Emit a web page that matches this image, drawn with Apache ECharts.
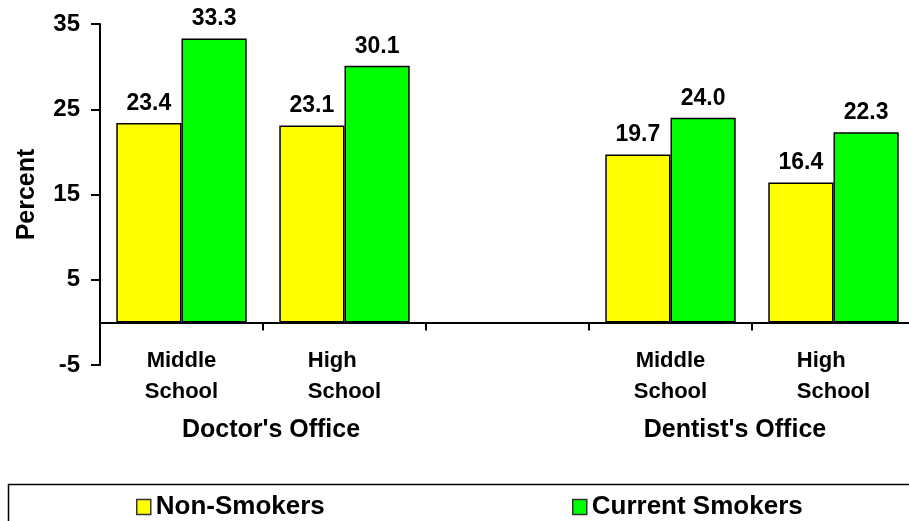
<!DOCTYPE html>
<html>
<head>
<meta charset="utf-8">
<script src="https://cdn.jsdelivr.net/npm/echarts@6/dist/echarts.min.js"></script>
<style>
  html, body { margin: 0; padding: 0; background: #fff; }
  #chart { width: 909px; height: 521px; }
</style>
</head>
<body>
<div id="chart"></div>
<script>
// Categories along the x axis (the empty slot separates the two settings)
const categories = ['Middle\nSchool', 'High    \nSchool', '', 'Middle\nSchool', 'High    \nSchool'];
const groupLabels = ["Doctor's Office", "Dentist's Office"];
const seriesNames = ['Non-Smokers', 'Current Smokers'];
const nonSmokers = [23.4, 23.1, '-', 19.7, 16.4];
const currentSmokers = [33.3, 30.1, '-', 24.0, 22.3];
const yTicks = [-5, 5, 15, 25, 35];

const FONT = '"Liberation Sans", Arial, Helvetica, sans-serif';

const chart = echarts.init(document.getElementById('chart'), null, { renderer: 'canvas' });

const barLabel = {
  show: true,
  position: 'top',
  distance: 8,
  color: '#000',
  fontFamily: FONT,
  fontWeight: 'bold',
  fontSize: 23,
  formatter: p => Number(p.value).toFixed(1)
};

const legendText = { color: '#000', fontFamily: FONT, fontWeight: 'bold', fontSize: 26 };

chart.setOption({
  animation: false,
  backgroundColor: '#fff',
  grid: { left: 100, top: 24, width: 815, height: 341, containLabel: false, outerBoundsMode: 'none' },
  xAxis: {
    type: 'category',
    data: categories,
    axisLine: { onZero: true, lineStyle: { color: '#000', width: 2 } },
    axisTick: { show: true, inside: false, length: 8, lineStyle: { color: '#000', width: 2 } },
    axisLabel: {
      interval: 0,
      margin: -20,
      color: '#000',
      fontFamily: FONT,
      fontWeight: 'bold',
      fontSize: 22,
      lineHeight: 31
    },
    splitLine: { show: false }
  },
  yAxis: {
    type: 'value',
    min: -5,
    max: 35,
    interval: 5,
    name: 'Percent',
    nameLocation: 'middle',
    nameGap: 60,
    nameRotate: 90,
    nameTextStyle: { color: '#000', fontFamily: FONT, fontWeight: 'bold', fontSize: 25 },
    axisLine: { show: true, lineStyle: { color: '#000', width: 2 } },
    axisTick: { show: true, length: 9, customValues: yTicks, lineStyle: { color: '#000', width: 2 } },
    axisLabel: {
      customValues: yTicks,
      margin: 20,
      color: '#000',
      fontFamily: FONT,
      fontWeight: 'bold',
      fontSize: 24
    },
    splitLine: { show: false }
  },
  legend: [
    {
      data: [{ name: seriesNames[0], icon: 'rect' }],
      left: 136, top: 494, padding: 0,
      itemWidth: 14, itemHeight: 15, itemGap: 4,
      itemStyle: { borderColor: '#333', borderWidth: 1.5 },
      textStyle: legendText
    },
    {
      data: [{ name: seriesNames[1], icon: 'rect' }],
      left: 572, top: 494, padding: 0,
      itemWidth: 14, itemHeight: 15, itemGap: 4,
      itemStyle: { borderColor: '#333', borderWidth: 1.5 },
      textStyle: legendText
    }
  ],
  graphic: [
    {
      type: 'rect',
      shape: { x: 8.5, y: 484.5, width: 930, height: 80 },
      style: { fill: 'none', stroke: '#000', lineWidth: 1.5 },
      silent: true
    },
    {
      type: 'text',
      x: 271, y: 430,
      style: { text: groupLabels[0], fill: '#000', font: 'bold 25px ' + FONT, textAlign: 'center', textVerticalAlign: 'middle' }
    },
    {
      type: 'text',
      x: 735, y: 430,
      style: { text: groupLabels[1], fill: '#000', font: 'bold 25px ' + FONT, textAlign: 'center', textVerticalAlign: 'middle' }
    }
  ],
  series: [
    {
      name: seriesNames[0],
      type: 'bar',
      data: nonSmokers,
      barGap: '0%',
      barCategoryGap: '20%',
      itemStyle: { color: '#FFFF00', borderColor: '#000', borderWidth: 1.5 },
      label: barLabel
    },
    {
      name: seriesNames[1],
      type: 'bar',
      data: currentSmokers,
      barGap: '0%',
      barCategoryGap: '20%',
      itemStyle: { color: '#00FF00', borderColor: '#000', borderWidth: 1.5 },
      label: barLabel
    }
  ]
});
</script>
</body>
</html>
